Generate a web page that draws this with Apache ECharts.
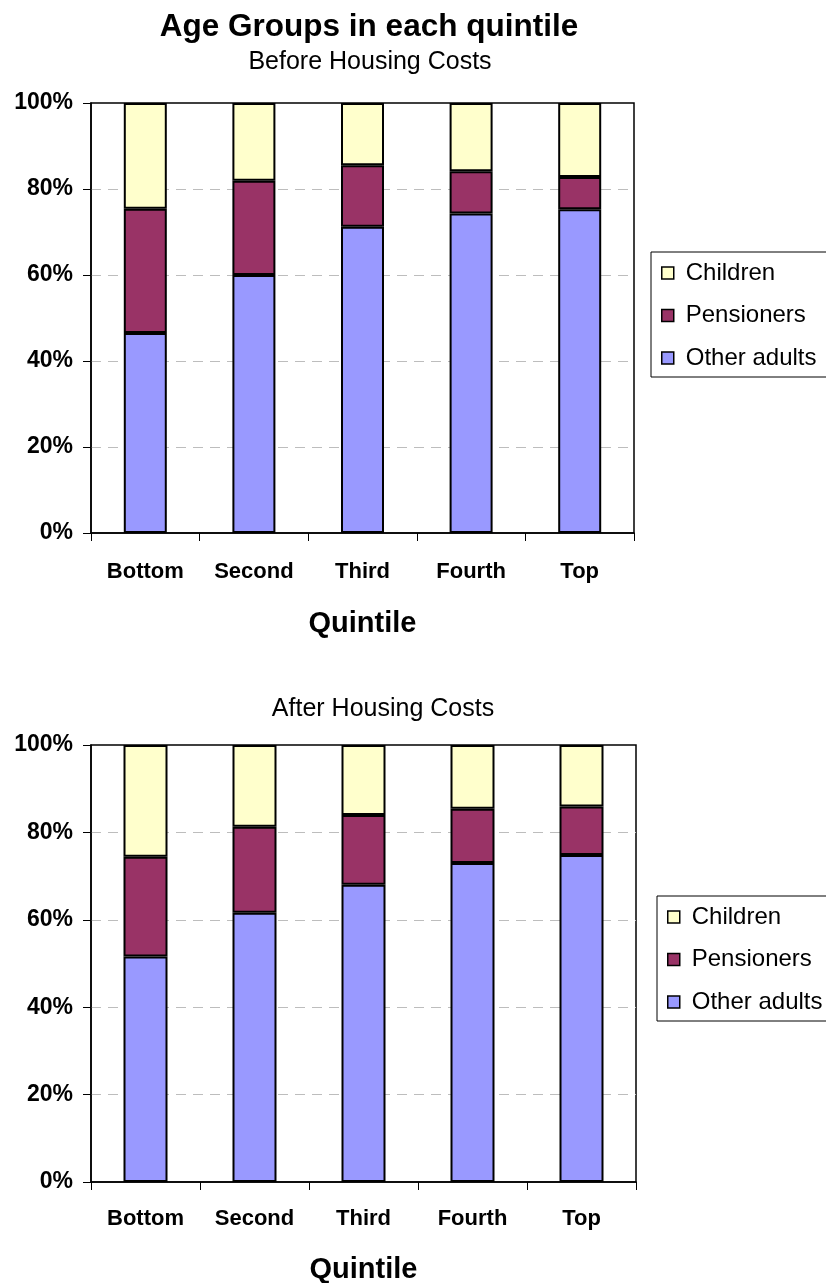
<!DOCTYPE html>
<html>
<head>
<meta charset="utf-8">
<title>Age Groups in each quintile</title>
<script src="https://cdn.jsdelivr.net/npm/echarts@6/dist/echarts.min.js"></script>
<style>
  html, body { margin: 0; padding: 0; background: #fff; }
  #chart { width: 826px; height: 1283px; }
</style>
</head>
<body>
<div id="chart"></div>
<script>
// Quintile categories and percentage shares of each age group
const quintiles = ['Bottom', 'Second', 'Third', 'Fourth', 'Top'];
const seriesNames = ['Children', 'Pensioners', 'Other adults'];

// Before Housing Costs
const bhcOtherAdults = [46.5, 60.0, 71.2, 74.3, 75.3];
const bhcPensioners  = [28.9, 21.9, 14.3, 9.8, 7.5];
const bhcChildren    = [24.6, 18.1, 14.5, 15.9, 17.2];

// After Housing Costs
const ahcOtherAdults = [51.6, 61.6, 68.0, 73.0, 74.8];
const ahcPensioners  = [22.8, 19.7, 16.0, 12.4, 11.1];
const ahcChildren    = [25.6, 18.7, 16.0, 14.6, 14.1];

const FONT = '"Liberation Sans", Arial, Helvetica, sans-serif';
const colors = {
  'Other adults': '#9999FF',
  'Pensioners': '#993366',
  'Children': '#FFFFCC'
};

function xAxisFor(gridIndex, margin, nameGap) {
  return {
    type: 'category',
    gridIndex: gridIndex,
    data: quintiles,
    name: 'Quintile',
    nameLocation: 'middle',
    nameGap: nameGap,
    nameTextStyle: { fontFamily: FONT, fontWeight: 'bold', fontSize: 29, color: '#000' },
    axisLine: { show: true, lineStyle: { color: '#000', width: 1.5 } },
    axisTick: { show: true, alignWithLabel: false, interval: 0, length: 8, lineStyle: { color: '#000', width: 1 } },
    axisLabel: { fontFamily: FONT, fontWeight: 'bold', fontSize: 22, color: '#000', margin: margin, interval: 0 },
    splitLine: { show: false }
  };
}

function yAxisFor(gridIndex) {
  return {
    type: 'value',
    gridIndex: gridIndex,
    min: 0,
    max: 100,
    interval: 20,
    axisLine: { show: true, lineStyle: { color: '#000', width: 1.5 } },
    axisTick: { show: true, length: 8, lineStyle: { color: '#000', width: 1 } },
    axisLabel: { formatter: '{value}%', fontFamily: FONT, fontWeight: 'bold', fontSize: 23, color: '#000', margin: 18 },
    splitLine: {
      show: true,
      showMinLine: false,
      showMaxLine: false,
      lineStyle: { color: '#bdbdbd', width: 1, type: [10, 7] }
    }
  };
}

function barSeries(name, data, axisIndex, barWidth) {
  return {
    name: name,
    type: 'bar',
    stack: 'total' + axisIndex,
    xAxisIndex: axisIndex,
    yAxisIndex: axisIndex,
    data: data,
    barWidth: barWidth,
    itemStyle: { color: colors[name], borderColor: '#000', borderWidth: 2 },
    emphasis: { disabled: true }
  };
}

function legendFor(left, top) {
  return {
    orient: 'vertical',
    left: left,
    top: top,
    data: seriesNames,
    icon: 'rect',
    itemWidth: 12,
    itemHeight: 12,
    itemGap: 18.5,
    padding: [9, 12, 7, 10],
    backgroundColor: '#fff',
    borderColor: '#000',
    borderWidth: 1,
    itemStyle: { borderColor: '#000', borderWidth: 1.5 },
    textStyle: { fontFamily: FONT, fontSize: 24, color: '#000', padding: [0, 0, 0, 7] },
    selectedMode: false
  };
}

const option = {
  backgroundColor: '#fff',
  animation: false,
  title: [
    {
      text: 'Age Groups in each quintile',
      left: 364, top: 6, textAlign: 'center',
      textStyle: { fontFamily: FONT, fontWeight: 'bold', fontSize: 31.5, color: '#000' }
    },
    {
      text: 'Before Housing Costs',
      left: 365, top: 45, textAlign: 'center',
      textStyle: { fontFamily: FONT, fontWeight: 'normal', fontSize: 25, color: '#000' }
    },
    {
      text: 'After Housing Costs',
      left: 378, top: 692, textAlign: 'center',
      textStyle: { fontFamily: FONT, fontWeight: 'normal', fontSize: 25, color: '#000' }
    }
  ],
  legend: [legendFor(651, 252), legendFor(657, 896)],
  grid: [
    { left: 91, top: 103, width: 543, height: 430, show: true, borderColor: '#000', borderWidth: 1.5, containLabel: false, outerBoundsMode: 'none' },
    { left: 91, top: 745, width: 545, height: 437, show: true, borderColor: '#000', borderWidth: 1.5, containLabel: false, outerBoundsMode: 'none' }
  ],
  xAxis: [xAxisFor(0, 28, 76), xAxisFor(1, 26, 73)],
  yAxis: [yAxisFor(0), yAxisFor(1)],
  series: [
    barSeries('Other adults', bhcOtherAdults, 0, 43),
    barSeries('Pensioners', bhcPensioners, 0, 43),
    barSeries('Children', bhcChildren, 0, 43),
    barSeries('Other adults', ahcOtherAdults, 1, 44),
    barSeries('Pensioners', ahcPensioners, 1, 44),
    barSeries('Children', ahcChildren, 1, 44)
  ]
};

const chart = echarts.init(document.getElementById('chart'), null, { renderer: 'canvas' });
chart.setOption(option);
</script>
</body>
</html>
